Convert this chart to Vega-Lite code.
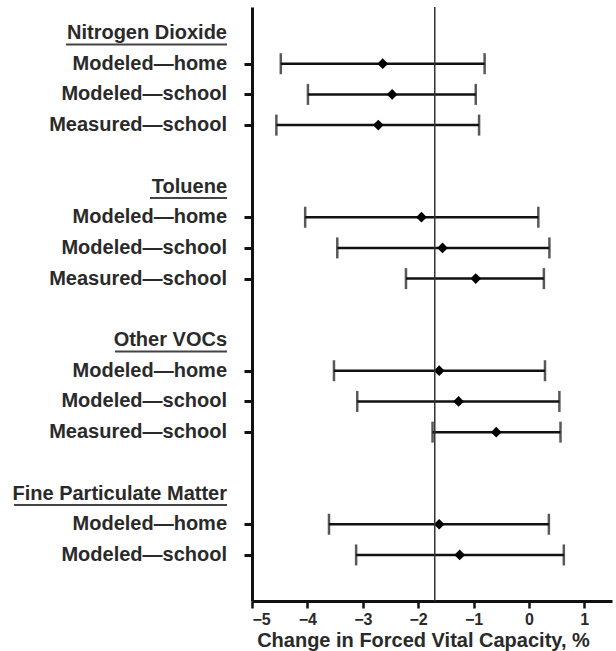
{
  "$schema": "https://vega.github.io/schema/vega-lite/v6.json",
  "autosize": {"type": "none"},
  "width": 360,
  "height": 594,
  "padding": {"left": 252, "top": 7, "right": 4, "bottom": 50},
  "background": "white",
  "config": {
    "view": {"stroke": null},
    "font": "Liberation Sans",
    "text": {"font": "Liberation Sans"},
    "axis": {"labelFont": "Liberation Sans", "titleFont": "Liberation Sans"}
  },
  "datasets": {
    "labels": [
      {"row": 1, "label": "Nitrogen Dioxide"},
      {"row": 2, "label": "Modeled—home"},
      {"row": 3, "label": "Modeled—school"},
      {"row": 4, "label": "Measured—school"},
      {"row": 6, "label": "Toluene"},
      {"row": 7, "label": "Modeled—home"},
      {"row": 8, "label": "Modeled—school"},
      {"row": 9, "label": "Measured—school"},
      {"row": 11, "label": "Other VOCs"},
      {"row": 12, "label": "Modeled—home"},
      {"row": 13, "label": "Modeled—school"},
      {"row": 14, "label": "Measured—school"},
      {"row": 16, "label": "Fine Particulate Matter"},
      {"row": 17, "label": "Modeled—home"},
      {"row": 18, "label": "Modeled—school"}
    ],
    "estimates": [
      {"pollutant": "Nitrogen Dioxide", "exposure": "Modeled—home", "row": 2, "est": -2.64, "lo": -4.48, "hi": -0.80},
      {"pollutant": "Nitrogen Dioxide", "exposure": "Modeled—school", "row": 3, "est": -2.47, "lo": -3.99, "hi": -0.96},
      {"pollutant": "Nitrogen Dioxide", "exposure": "Measured—school", "row": 4, "est": -2.72, "lo": -4.56, "hi": -0.90},
      {"pollutant": "Toluene", "exposure": "Modeled—home", "row": 7, "est": -1.94, "lo": -4.04, "hi": 0.17},
      {"pollutant": "Toluene", "exposure": "Modeled—school", "row": 8, "est": -1.56, "lo": -3.46, "hi": 0.37},
      {"pollutant": "Toluene", "exposure": "Measured—school", "row": 9, "est": -0.96, "lo": -2.22, "hi": 0.27},
      {"pollutant": "Other VOCs", "exposure": "Modeled—home", "row": 12, "est": -1.62, "lo": -3.52, "hi": 0.29},
      {"pollutant": "Other VOCs", "exposure": "Modeled—school", "row": 13, "est": -1.27, "lo": -3.10, "hi": 0.55},
      {"pollutant": "Other VOCs", "exposure": "Measured—school", "row": 14, "est": -0.59, "lo": -1.74, "hi": 0.57},
      {"pollutant": "Fine Particulate Matter", "exposure": "Modeled—home", "row": 17, "est": -1.62, "lo": -3.61, "hi": 0.36},
      {"pollutant": "Fine Particulate Matter", "exposure": "Modeled—school", "row": 18, "est": -1.25, "lo": -3.12, "hi": 0.63}
    ]
  },
  "layer": [
    {
      "data": {"name": "estimates"},
      "mark": {"type": "rule", "strokeWidth": 2.5, "color": "#111"},
      "encoding": {
        "x": {
          "field": "lo", "type": "quantitative",
          "scale": {"domain": [-5, 1.5], "nice": false, "zero": false},
          "axis": {
            "values": [-5, -4, -3, -2, -1, 0, 1],
            "grid": false,
            "domainWidth": 3, "domainColor": "#111",
            "tickWidth": 2.5, "tickSize": 7, "tickColor": "#111",
            "labelFontSize": 16, "labelFontWeight": "bold", "labelColor": "#2a2a2a", "labelPadding": 3,
            "title": "Change in Forced Vital Capacity, %",
            "titleFontSize": 20, "titleFontWeight": "bold", "titleColor": "#2a2a2a", "titlePadding": 3,
            "titleX": 171
          }
        },
        "x2": {"field": "hi"},
        "y": {
          "field": "row", "type": "quantitative",
          "scale": {"domain": [0.153, 19.5], "reverse": true, "nice": false, "zero": false},
          "axis": {
            "values": [2, 3, 4, 7, 8, 9, 12, 13, 14, 17, 18],
            "labels": false, "grid": false, "title": null,
            "domainWidth": 3, "domainColor": "#111", "tickWidth": 3, "tickSize": 8, "tickColor": "#111"
          }
        }
      }
    },
    {
      "data": {"name": "estimates"},
      "mark": {"type": "tick", "orient": "vertical", "size": 21, "thickness": 2.5, "color": "#111"},
      "encoding": {"x": {"field": "lo", "type": "quantitative"}, "y": {"field": "row", "type": "quantitative"}}
    },
    {
      "data": {"name": "estimates"},
      "mark": {"type": "tick", "orient": "vertical", "size": 21, "thickness": 2.5, "color": "#111"},
      "encoding": {"x": {"field": "hi", "type": "quantitative"}, "y": {"field": "row", "type": "quantitative"}}
    },
    {
      "data": {"name": "estimates"},
      "mark": {"type": "point", "shape": "diamond", "filled": true, "size": 115, "color": "#000", "opacity": 1},
      "encoding": {"x": {"field": "est", "type": "quantitative"}, "y": {"field": "row", "type": "quantitative"}}
    },
    {
      "data": {"values": [{}]},
      "mark": {"type": "rule", "strokeWidth": 1.5, "color": "#333"},
      "encoding": {"x": {"datum": -1.7}}
    },
    {
      "data": {"name": "labels"},
      "mark": {"type": "text", "align": "right", "baseline": "middle", "dx": -25, "fontSize": 20, "fontWeight": "bold", "color": "#2a2a2a"},
      "encoding": {"x": {"datum": -5}, "y": {"field": "row", "type": "quantitative"}, "text": {"field": "label"}}
    },
    {
      "data": {"values": [{}]},
      "mark": {"type": "rule", "strokeWidth": 2, "color": "#444"},
      "encoding": {"x": {"datum": -8.358}, "x2": {"datum": -5.451}, "y": {"datum": 1.375}}
    },
    {
      "data": {"values": [{}]},
      "mark": {"type": "rule", "strokeWidth": 2, "color": "#444"},
      "encoding": {"x": {"datum": -6.842}, "x2": {"datum": -5.451}, "y": {"datum": 6.375}}
    },
    {
      "data": {"values": [{}]},
      "mark": {"type": "rule", "strokeWidth": 2, "color": "#444"},
      "encoding": {"x": {"datum": -7.474}, "x2": {"datum": -5.451}, "y": {"datum": 11.375}}
    },
    {
      "data": {"values": [{}]},
      "mark": {"type": "rule", "strokeWidth": 2, "color": "#444"},
      "encoding": {"x": {"datum": -9.297}, "x2": {"datum": -5.451}, "y": {"datum": 16.375}}
    }
  ]
}
